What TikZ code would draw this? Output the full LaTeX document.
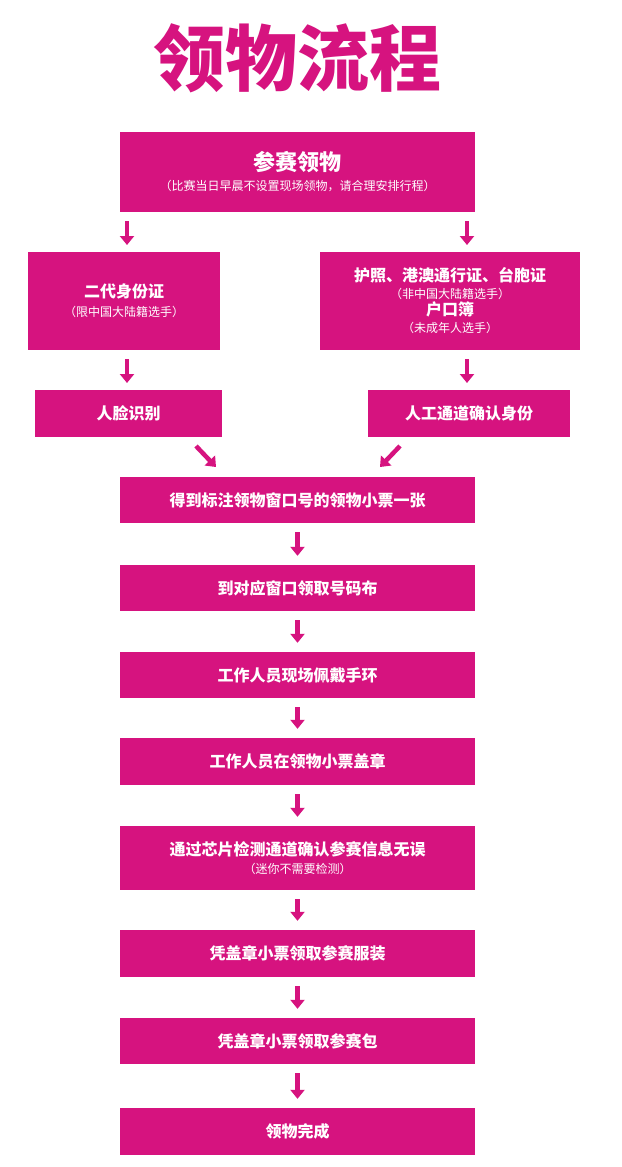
\documentclass[tikz,border=0pt]{standalone}
\usepackage{fontspec}
\setmainfont{Noto Sans CJK SC}
\usetikzlibrary{arrows.meta}
\definecolor{mag}{HTML}{D6137F}
\newcommand\subt{\mdseries\fontsize{12}{15}\selectfont}
\begin{document}
\begin{tikzpicture}[x=1pt,y=-1pt,
  box/.style={fill=mag,draw=none,inner sep=0pt,text=white,align=center,font=\bfseries\fontsize{16}{20}\selectfont},
  arr/.style={draw=mag,line width=4.5pt,-{Triangle[width=14pt,length=9pt]}}]
\useasboundingbox (0,0) rectangle (621,1167);
\fill[white] (0,0) rectangle (621,1167);
\node[text=mag,font=\bfseries\fontsize{72}{80}\selectfont] (title) at (297,58) {领物流程};
\newcommand\bx[6]{\node[box,minimum width=#4-#2,minimum height=#5-#3] (#1) at ({(#2+#4)/2},{(#3+#5)/2}) {#6};}
\bx{a}{120}{132}{475}{212}{{\fontsize{22}{26}\selectfont 参赛领物}\\[0pt]{\subt（比赛当日早晨不设置现场领物，请合理安排行程）}}
\bx{b}{28}{252}{220}{350}{二代身份证\\[-1pt]{\subt（限中国大陆籍选手）}}
\bx{c}{320}{252}{580}{350}{护照、港澳通行证、台胞证\\[-3pt]{\subt（非中国大陆籍选手）}\\[-3pt]户口簿\\[-3pt]{\subt（未成年人选手）}}
\bx{d}{35}{390}{222}{437}{人脸识别}
\bx{e}{368}{390}{570}{437}{人工通道确认身份}
\bx{f}{120}{477}{475}{523}{得到标注领物窗口号的领物小票一张}
\bx{g}{120}{565}{475}{611}{到对应窗口领取号码布}
\bx{h}{120}{652}{475}{698}{工作人员现场佩戴手环}
\bx{i}{120}{738}{475}{785}{工作人员在领物小票盖章}
\bx{j}{120}{826}{475}{890}{通过芯片检测通道确认参赛信息无误\\[-2pt]{\subt（迷你不需要检测）}}
\bx{k}{120}{930}{475}{977}{凭盖章小票领取参赛服装}
\bx{l}{120}{1018}{475}{1064}{凭盖章小票领取参赛包}
\bx{m}{120}{1108}{475}{1155}{领物完成}
\coordinate (a1s) at (127,221); \coordinate (a1e) at (127,245);
\coordinate (a2s) at (467,221); \coordinate (a2e) at (467,245);
\coordinate (b1s) at (127,359); \coordinate (b1e) at (127,383);
\coordinate (c1s) at (467,359); \coordinate (c1e) at (467,383);
\coordinate (d1s) at (196,446); \coordinate (d1e) at (216,467);
\coordinate (e1s) at (400,446); \coordinate (e1e) at (380,467);
\draw[arr] (a1s)--(a1e); \draw[arr] (a2s)--(a2e);
\draw[arr] (b1s)--(b1e); \draw[arr] (c1s)--(c1e);
\draw[arr] (d1s)--(d1e); \draw[arr] (e1s)--(e1e);
\foreach \u/\v in {f/g,g/h,h/i,i/j,j/k,k/l,l/m}{
  \draw[arr] ([yshift=-9pt]\u.south) -- ([yshift=9pt]\v.north);}
\end{tikzpicture}
\end{document}
